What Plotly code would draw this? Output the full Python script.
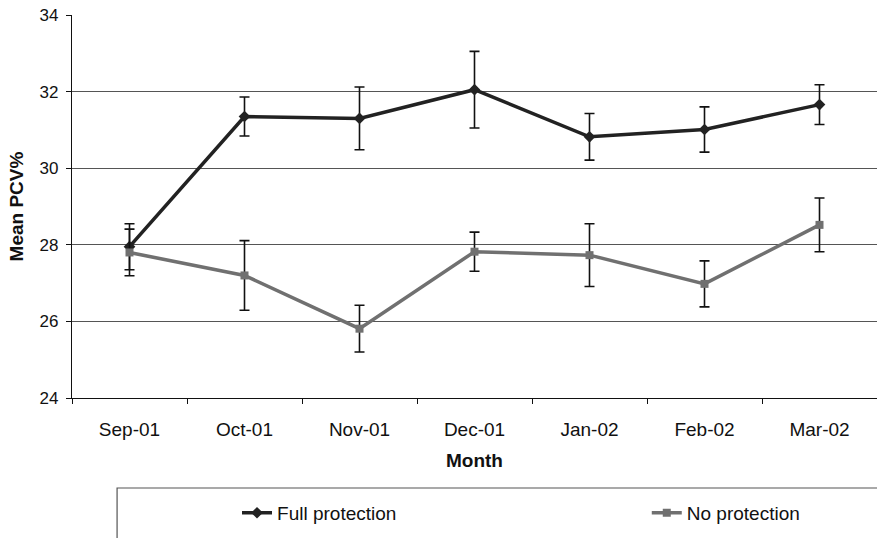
import plotly.graph_objects as go

months = ["Sep-01", "Oct-01", "Nov-01", "Dec-01", "Jan-02", "Feb-02", "Mar-02"]
full_protection = [27.95, 31.35, 31.30, 32.05, 30.82, 31.01, 31.66]
full_err = [0.60, 0.51, 0.82, 1.00, 0.61, 0.59, 0.52]
no_protection = [27.80, 27.20, 25.81, 27.82, 27.73, 26.98, 28.52]
no_err = [0.61, 0.91, 0.61, 0.51, 0.82, 0.60, 0.70]
y_ticks = [24, 26, 28, 30, 32, 34]

FONT = "Liberation Sans, Arial, sans-serif"

fig = go.Figure()
fig.add_trace(go.Scatter(
    x=months, y=full_protection, name="Full protection", mode="lines+markers",
    line=dict(color="#222222", width=3.5),
    marker=dict(symbol="diamond", size=9, color="#222222"),
    error_y=dict(type="data", array=full_err, visible=True, color="#111111",
                 thickness=1.6, width=5),
    legend="legend",
))
fig.add_trace(go.Scatter(
    x=months, y=no_protection, name="No protection", mode="lines+markers",
    line=dict(color="#707070", width=3.5),
    marker=dict(symbol="square", size=8, color="#707070"),
    error_y=dict(type="data", array=no_err, visible=True, color="#111111",
                 thickness=1.6, width=5),
    legend="legend2",
))

leg_common = dict(orientation="h", yanchor="middle", xanchor="left",
                  font=dict(family=FONT, size=19, color="#111111"),
                  bgcolor="rgba(0,0,0,0)", borderwidth=0)

fig.update_layout(
    width=877, height=538,
    margin=dict(l=72, r=0, t=15, b=140, autoexpand=False),
    paper_bgcolor="white", plot_bgcolor="white",
    font=dict(family=FONT, size=16, color="#111111"),
    showlegend=True,
    legend=dict(x=0.205, y=-0.30, **leg_common),
    legend2=dict(x=0.714, y=-0.30, **leg_common),
    xaxis=dict(
        type="category", categoryorder="array", categoryarray=months,
        range=[-0.5, 6.5],
        showline=True, linecolor="#111111", linewidth=1.3,
        ticks="outside", ticklen=5, tickcolor="#111111", tickson="boundaries",
        ticklabelstandoff=14,
        showgrid=False,
        tickfont=dict(size=19),
        title=dict(text="<b>Month</b>", font=dict(size=19), standoff=14),
    ),
    yaxis=dict(
        range=[24, 34], tickvals=y_ticks,
        showline=True, linecolor="#111111", linewidth=1.3,
        ticks="outside", ticklen=5, tickcolor="#111111",
        ticklabelstandoff=4,
        showgrid=True, gridcolor="#555555", gridwidth=1,
        zeroline=False,
        tickfont=dict(size=17),
        title=dict(text="<b>Mean PCV%</b>", font=dict(size=19), standoff=10),
    ),
    shapes=[dict(type="rect", xref="paper", yref="paper",
                 x0=0.056, x1=1.2, y0=-0.235, y1=-0.5,
                 line=dict(color="#555555", width=1.2), fillcolor="rgba(0,0,0,0)",
                 layer="below")],
)

fig.write_html("out.html", config={"displayModeBar": False},
               post_script="document.body.style.margin='0';")
